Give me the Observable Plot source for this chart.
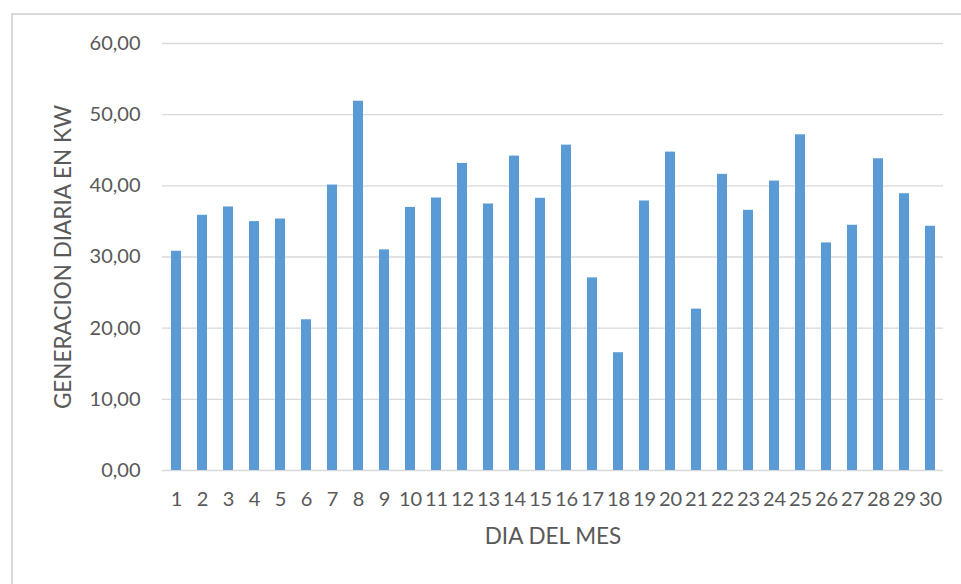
<!DOCTYPE html>
<html>
<head>
<meta charset="utf-8">
<script src="https://cdn.jsdelivr.net/npm/d3@7"></script>
<script src="https://cdn.jsdelivr.net/npm/@observablehq/plot@0.6"></script>
<style>
  html, body { margin: 0; padding: 0; background: #fff; }
  #wrap { position: relative; width: 961px; height: 584px; overflow: hidden; }
  #border { position: absolute; left: 11px; top: 13px; width: 960px; height: 600px;
            border-left: 2px solid #d9d9d9; border-top: 2px solid #d9d9d9; box-sizing: border-box; }
  #chart { position: absolute; left: 0; top: 0; }
</style>
</head>
<body>
<div id="wrap"><div id="border"></div><div id="chart"></div></div>
<script>
const days = Array.from({length: 30}, (_, i) => String(i + 1));
const generation = [30.81, 35.86, 37.03, 34.97, 35.34, 21.18, 40.11, 51.89, 31.00, 36.97,
                    38.29, 43.15, 37.45, 44.18, 38.25, 45.72, 27.07, 16.55, 37.87, 44.74,
                    22.68, 41.61, 36.56, 40.67, 47.17, 31.98, 34.46, 43.80, 38.89, 34.32];
const yTicks = [0, 10, 20, 30, 40, 50, 60];
const yTitle = "GENERACION DIARIA EN KW";
const xTitle = "DIA DEL MES";

const data = days.map((d, i) => ({day: d, value: generation[i]}));
const fmt = d => d.toFixed(2).replace(".", ",");

const chart = Plot.plot({
  width: 961,
  height: 584,
  marginLeft: 162,
  marginRight: 18,
  marginTop: 43,
  marginBottom: 114,
  style: {fontFamily: "Lato, sans-serif", background: "transparent", color: "#595959"},
  x: {domain: days, paddingInner: 0.62, paddingOuter: 0.31},
  y: {domain: [0, 60]},
  marks: [
    Plot.gridY(yTicks, {stroke: "#d9d9d9", strokeOpacity: 1, strokeWidth: 1.3}),
    Plot.barY(data, {x: "day", y: "value", fill: "#5b9bd5"}),
    Plot.axisY(yTicks, {tickSize: 0, tickPadding: 22, tickFormat: fmt, fontSize: 20, label: null, fill: "#595959"}),
    Plot.axisX({tickSize: 0, tickPadding: 21, fontSize: 20, label: null, fill: "#595959"}),
    Plot.text([yTitle], {frameAnchor: "left", dx: -99, rotate: -90, textAnchor: "middle", fontSize: 22.5, fill: "#595959"}),
    Plot.text([xTitle], {frameAnchor: "bottom", dy: 73, fontSize: 22.5, fill: "#595959"})
  ]
});
document.getElementById("chart").appendChild(chart);
</script>
</body>
</html>
